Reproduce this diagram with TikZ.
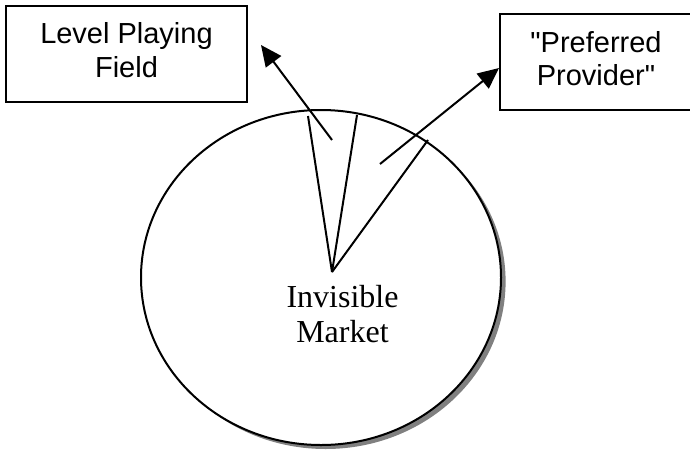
\documentclass[tikz,border=0pt]{standalone}
\usepackage{fontspec}
\setmainfont{Liberation Serif}
\newfontfamily\arialfont{Liberation Sans}
\usetikzlibrary{arrows.meta,shapes.geometric,shadows}

\begin{document}
\begin{tikzpicture}[x=0.5pt,y=-0.5pt,line width=1pt,
    >={Triangle[length=10.5pt,width=9.5pt]}]

    \useasboundingbox (0,0) rectangle (690,450);
    \clip (0,0) rectangle (690,450);

    % the market
    \node[ellipse,
          draw,
          fill = white,
          inner sep = 0pt,
          minimum width = 180pt,
          minimum height = 167.5pt,
          drop shadow = {shadow xshift = 2.3pt, shadow yshift = -2pt,
                         fill = gray, opacity = 1}
          ] (market) at (321,277.5) {};
    \node[align = center,
          font = \fontsize{16}{17.5}\selectfont
          ] at (342.5,314.5) {Invisible\\Market};

    \node[rectangle,
          draw,
          minimum width = 120.5pt,
          minimum height = 48pt
          ] (field) at (126.5,54) {};
    \node[align = center,
          font = \arialfont\fontsize{14.5}{17}\selectfont
          ] at (126.5,50) {Level Playing\\Field};

    \node[rectangle,
          draw,
          minimum width = 96pt,
          minimum height = 48pt
          ] (provider) at (596,62) {};
    \node[align = center,
          font = \arialfont\fontsize{14.5}{16.5}\selectfont
          ] at (596,58.5) {"Preferred\\Provider"};

    % the slices
    \coordinate (apex) at (332,272);
    \coordinate (rayA) at (308,116);
    \coordinate (rayB) at (357,115);
    \coordinate (rayC) at (428,140);
    \draw (apex) -- (rayA);
    \draw (apex) -- (rayB);
    \draw (apex) -- (rayC);

    \coordinate (fieldtail) at (332,140);
    \coordinate (fieldtip) at (261,45);
    \coordinate (providertail) at (380,164);

    \path[->]
    (fieldtail) edge [] (fieldtip)
    (providertail) edge [] ([yshift=-3pt]provider.west) ;

\end{tikzpicture}
\end{document}
